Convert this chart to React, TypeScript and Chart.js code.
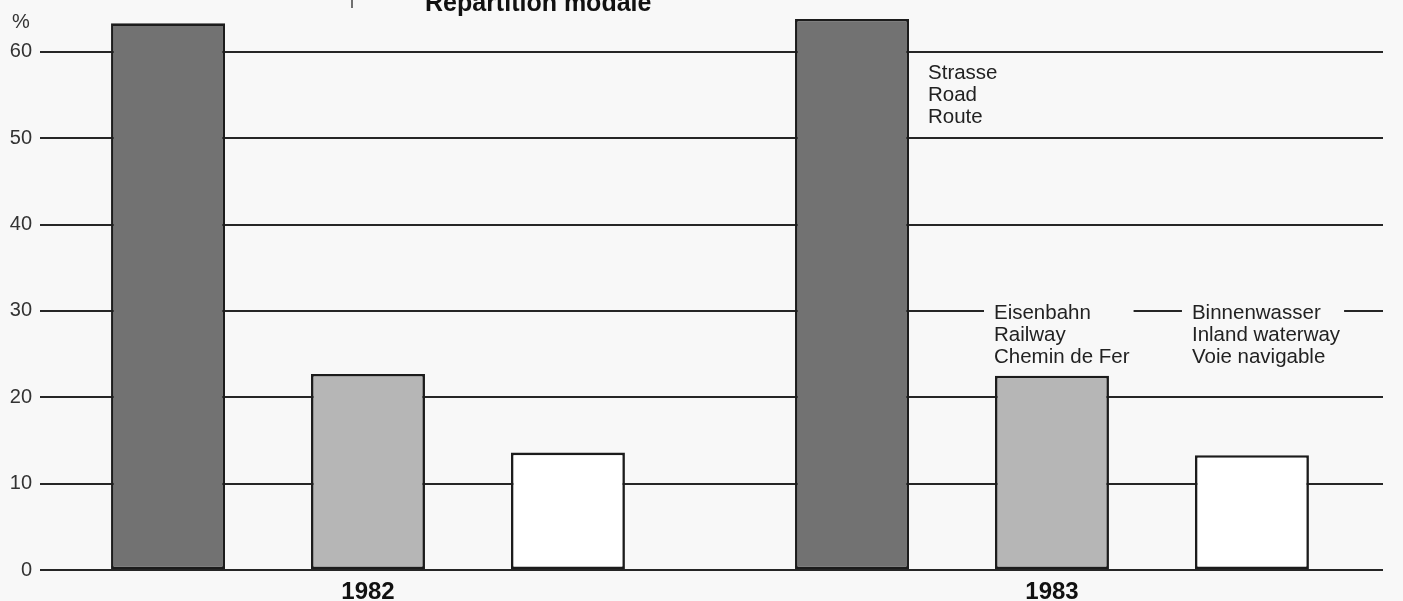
import React, { useEffect, useRef } from 'react';
import { Chart, registerables } from 'chart.js';

Chart.register(...registerables);

const years = ['1982', '1983'];
const roadShare = [63.3, 63.8];
const railShare = [22.7, 22.5];
const waterShare = [13.6, 13.3];
const yTickValues = [0, 10, 20, 30, 40, 50, 60];
const roadLabel = ['Strasse', 'Road', 'Route'];
const railLabel = ['Eisenbahn', 'Railway', 'Chemin de Fer'];
const waterLabel = ['Binnenwasser', 'Inland waterway', 'Voie navigable'];
const titleText = 'Répartition modale';
const unitText = '%';

const FONT = '"Liberation Sans", Arial, Helvetica, sans-serif';
const BG = '#f8f8f8';

const overlayPlugin = {
  id: 'overlay',
  afterDraw(chart: any) {
    const ctx = chart.ctx as CanvasRenderingContext2D;
    const ys = chart.scales.y;
    const roadBar = chart.getDatasetMeta(0).data[1];
    const railBar = chart.getDatasetMeta(1).data[1];
    const waterBar = chart.getDatasetMeta(2).data[1];
    ctx.save();
    ctx.font = `20.5px ${FONT}`;
    ctx.fillStyle = '#222';
    ctx.textBaseline = 'middle';
    ctx.textAlign = 'left';

    const drawBlock = (lines: string[], x: number, y0: number, clearY: number | null) => {
      if (clearY !== null) {
        const maxW = Math.max(...lines.map((l) => ctx.measureText(l).width));
        ctx.fillStyle = BG;
        ctx.fillRect(x - 10, clearY - 6, maxW + 14, 12);
        ctx.fillStyle = '#222';
      }
      lines.forEach((l, i) => ctx.fillText(l, x, y0 + i * 22));
    };

    const roadRight = roadBar.x + roadBar.width / 2;
    drawBlock(roadLabel, roadRight + 19, ys.getPixelForValue(57.7) + 2, null);
    const y30 = ys.getPixelForValue(30);
    drawBlock(railLabel, railBar.x - railBar.width / 2 - 1, y30 + 2.5, y30);
    drawBlock(waterLabel, waterBar.x - waterBar.width / 2 - 3, y30 + 2.5, y30);

    // unit label
    ctx.font = `20px ${FONT}`;
    ctx.fillStyle = '#333';
    ctx.textAlign = 'center';
    ctx.fillText(unitText, 21, 22);

    // cropped title
    ctx.font = `bold 25px ${FONT}`;
    ctx.fillStyle = '#111';
    ctx.textAlign = 'left';
    ctx.textBaseline = 'alphabetic';
    ctx.fillText(titleText, 425, 11);
    ctx.strokeStyle = '#444';
    ctx.lineWidth = 1.5;
    ctx.beginPath();
    ctx.moveTo(352, 0);
    ctx.lineTo(352, 8);
    ctx.stroke();
    ctx.restore();
  },
};

export default function App() {
  const canvasRef = useRef<HTMLCanvasElement | null>(null);

  useEffect(() => {
    if (!canvasRef.current) return;
    const chart = new Chart(canvasRef.current, {
      type: 'bar',
      data: {
        labels: years,
        datasets: [
          {
            label: 'Road',
            data: roadShare,
            backgroundColor: '#727272',
            borderColor: '#1c1c1c',
            borderWidth: 2.6,
            borderSkipped: false,
          },
          {
            label: 'Railway',
            data: railShare,
            backgroundColor: '#b6b6b6',
            borderColor: '#1c1c1c',
            borderWidth: 2.6,
            borderSkipped: false,
          },
          {
            label: 'Inland waterway',
            data: waterShare,
            backgroundColor: '#ffffff',
            borderColor: '#1c1c1c',
            borderWidth: 2.6,
            borderSkipped: false,
          },
        ],
      },
      options: {
        animation: false,
        responsive: true,
        maintainAspectRatio: false,
        layout: { padding: { left: 0, right: 20, top: 0, bottom: 0 } },
        datasets: { bar: { categoryPercentage: 0.877, barPercentage: 0.57 } },
        plugins: { legend: { display: false }, tooltip: { enabled: false } },
        scales: {
          x: {
            type: 'category',
            offset: true,
            grid: { display: false },
            border: { display: false },
            ticks: {
              font: { family: FONT, size: 24, weight: 'bold' },
              color: '#111',
              padding: 0,
            },
            afterBuildTicks: (s: any) => {
              // widen group spacing slightly to match the original layout
              s._startValue = -0.4795;
              s._valueRange = 1343 / 684;
            },
            afterFit: (s: any) => {
              s.height = 31;
              s.paddingLeft = 0;
              s.paddingRight = 0;
            },
          },
          y: {
            min: 0,
            max: 66,
            afterBuildTicks: (s: any) => {
              s.ticks = yTickValues.map((v) => ({ value: v }));
            },
            grid: { color: '#262626', lineWidth: 1.9, drawTicks: false, tickLength: 0 },
            border: { display: false },
            ticks: {
              font: { family: FONT, size: 20 },
              color: '#333',
              padding: 8,
            },
            afterFit: (s: any) => {
              s.width = 40;
              s.paddingTop = 0;
              s.paddingBottom = 0;
            },
          },
        },
      },
      plugins: [overlayPlugin],
    } as any);
    return () => chart.destroy();
  }, []);

  return (
    <div
      style={{
        position: 'fixed',
        left: 0,
        top: 0,
        width: '1403px',
        height: '601px',
        background: BG,
      }}
    >
      <canvas ref={canvasRef} />
    </div>
  );
}
